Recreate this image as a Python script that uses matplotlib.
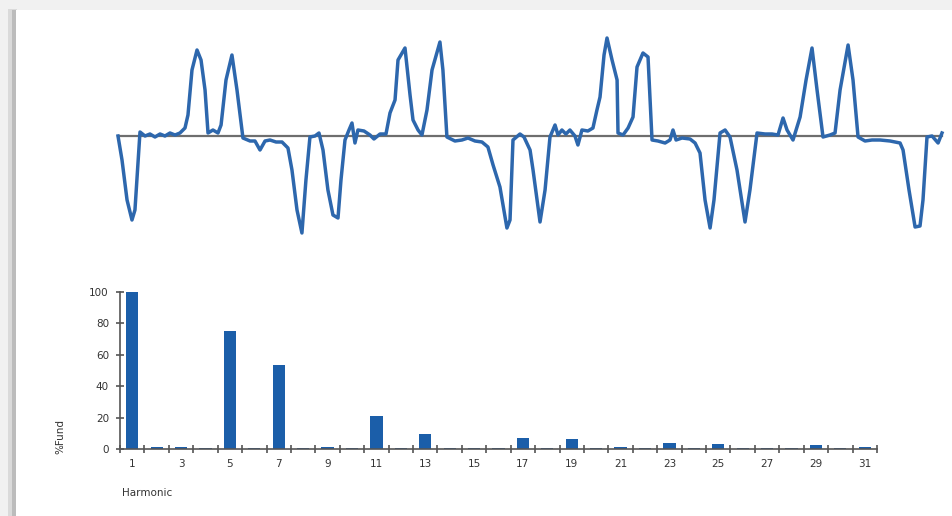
import numpy as np
import matplotlib
matplotlib.use('Agg')
import matplotlib.pyplot as plt
from matplotlib.patches import Rectangle

# waveform: time [ms] and current [per unit]
t_ms = [0.00, 0.39, 0.88, 1.36, 1.65, 2.14, 2.63, 3.11, 3.60, 4.09, 4.57, 5.06, 5.55, 6.03,
        6.52, 6.81, 7.20, 7.69, 8.08, 8.47, 8.76, 9.24, 9.73, 10.03, 10.51, 11.09, 11.58,
        12.16, 12.85, 13.33, 13.82, 14.31, 14.79, 15.38, 15.96, 16.54, 16.93, 17.42, 17.90,
        18.29, 18.68, 19.17, 19.56, 19.95, 20.43, 20.92, 21.41, 21.70, 22.09, 22.48, 22.77,
        23.06, 23.35, 23.94, 24.52, 24.91, 25.50, 26.08, 26.47, 26.96, 27.25, 27.93, 28.42,
        28.71, 29.20, 29.58, 30.07, 30.56, 31.33, 31.62, 32.01, 32.79, 33.47, 34.06, 34.74,
        35.42, 36.00, 36.50, 37.17, 37.85, 38.15, 38.44, 39.12, 39.51, 40.10, 40.39, 41.07,
        41.56, 42.04, 42.53, 42.82, 43.20, 43.59, 43.98, 44.47, 44.76, 45.15, 45.73, 46.22,
        46.61, 46.91, 47.30, 47.59, 48.08, 48.57, 48.66, 49.15, 49.64, 50.12, 50.51, 51.09,
        51.58, 51.97, 52.55, 53.24, 53.72, 54.01, 54.31, 54.89, 55.67, 56.16, 56.64, 57.13,
        57.62, 58.00, 58.59, 59.08, 59.56, 60.24, 61.02, 61.50, 62.19, 62.97, 63.65, 64.23,
        64.72, 65.11, 65.69, 66.38, 66.96, 67.54, 68.03, 68.61, 69.29, 69.78, 70.27, 71.05,
        71.53, 72.02, 72.70, 73.38, 74.16, 75.13, 76.11, 76.40, 76.98, 77.57, 78.05, 78.34,
        78.73, 79.22, 79.81, 80.19]
i_pu = [0.00, -0.24, -0.64, -0.84, -0.74, 0.04, 0.00, 0.02, -0.01, 0.02, 0.00, 0.03, 0.01, 0.03,
        0.08, 0.21, 0.66, 0.86, 0.76, 0.46, 0.03, 0.06, 0.03, 0.11, 0.56, 0.81, 0.46,
        -0.02, -0.05, -0.05, -0.14, -0.05, -0.04, -0.06, -0.06, -0.12, -0.34, -0.74, -0.97,
        -0.44, -0.01, 0.00, 0.03, -0.14, -0.54, -0.79, -0.82, -0.44, -0.04, 0.06, 0.13,
        -0.07, 0.06, 0.05, 0.01, -0.03, 0.02, 0.02, 0.23, 0.36, 0.76, 0.88, 0.41,
        0.16, 0.06, 0.01, 0.26, 0.66, 0.94, 0.66, -0.01, -0.05, -0.04, -0.02, -0.05,
        -0.06, -0.11, -0.29, -0.51, -0.92, -0.84, -0.04, 0.02, -0.01, -0.14, -0.34, -0.86,
        -0.54, -0.01, 0.11, 0.01, 0.06, 0.02, 0.06, 0.00, -0.09, 0.06, 0.05, 0.08,
        0.26, 0.39, 0.81, 0.98, 0.76, 0.56, 0.03, 0.01, 0.08, 0.19, 0.69, 0.83,
        0.79, -0.04, -0.05, -0.07, -0.04, 0.06, -0.04, -0.02, -0.03, -0.07, -0.17, -0.64,
        -0.92, -0.64, 0.03, 0.06, -0.01, -0.34, -0.86, -0.54, 0.03, 0.02, 0.02, 0.01,
        0.18, 0.06, -0.04, 0.19, 0.56, 0.88, 0.46, -0.01, 0.01, 0.03, 0.46, 0.91,
        0.56, -0.01, -0.05, -0.04, -0.04, -0.05, -0.07, -0.14, -0.54, -0.91, -0.90, -0.64,
        -0.01, 0.00, -0.07, 0.03]

# harmonic spectrum, % of fundamental
harmonics = list(range(1, 32))
pct_fund = [100, 1.0, 1.2, 0.8, 75, 0.8, 53.5, 0.8, 1.0, 0.8, 21, 0.7, 9.5, 0.7, 0.8, 0.7,
            7.2, 0.6, 6.2, 0.6, 1.0, 0.6, 4.0, 0.6, 3.2, 0.6, 0.7, 0.6, 2.5, 0.6, 1.0]
tick_labels = [str(h) for h in harmonics if h % 2 == 1]

W, H = 953, 516
fig = plt.figure(figsize=(W / 100, H / 100), dpi=100)
fig.patch.set_facecolor('#f1f1f1')

# white sheet with a soft shadow on the left
fig.add_artist(Rectangle((8 / W, 0), 9 / W, 1 - 9 / H, transform=fig.transFigure,
                         facecolor='#dadada', edgecolor='none', zorder=0))
fig.add_artist(Rectangle((12 / W, 0), 5 / W, 1 - 10 / H, transform=fig.transFigure,
                         facecolor='#bcbcbc', edgecolor='none', zorder=0))
fig.add_artist(Rectangle((16 / W, 0), 1, 1 - 10 / H, transform=fig.transFigure,
                         facecolor='white', edgecolor='none', zorder=0))


def px_axes(x0, y0, x1, y1):
    # axes box from pixel corners (top-left origin)
    return fig.add_axes([x0 / W, 1 - y1 / H, (x1 - x0) / W, (y1 - y0) / H])


# waveform
ax1 = px_axes(118, 36, 942, 236)
ax1.set_xlim(0, t_ms[-1])
ax1.set_ylim(-1, 1)
ax1.axis('off')
ax1.plot([0, t_ms[-1]], [0, 0], color='#6e6e6e', lw=1.6, zorder=1, clip_on=False)
ax1.plot(t_ms, i_pu, color='#2d67ad', lw=2.5, zorder=2, clip_on=False,
         solid_joinstyle='round')

# spectrum
ax2 = px_axes(120, 292, 877, 449)
ax2.bar(harmonics, pct_fund, width=0.5, color='#1b5ea9', zorder=2)
ax2.set_xlim(0.5, 31.5)
ax2.set_ylim(0, 100)
for s in ['top', 'right']:
    ax2.spines[s].set_visible(False)
for s in ['left', 'bottom']:
    ax2.spines[s].set_color('#555555')
    ax2.spines[s].set_linewidth(1.2)
ax2.set_yticks([0, 20, 40, 60, 80, 100])
ax2.set_xticks(np.arange(0.5, 32, 1.0))
ax2.set_xticklabels([])
ax2.set_xticks([h for h in harmonics if h % 2 == 1], minor=True)
ax2.set_xticklabels(tick_labels, minor=True)
ax2.tick_params(axis='x', which='major', direction='inout', length=6, width=1.2,
                color='#555555')
ax2.tick_params(axis='x', which='minor', length=0, pad=7, labelsize=7.5,
                labelcolor='#333333')
ax2.tick_params(axis='y', direction='inout', length=6, width=1.2, color='#555555',
                labelsize=7.5, labelcolor='#333333', pad=5)

fig.text(60 / W, 1 - 437 / H, '%Fund', rotation=90, ha='center', va='center',
         fontsize=7.5, color='#333333')
fig.text(122 / W, 1 - 493 / H, 'Harmonic', ha='left', va='center',
         fontsize=7.5, color='#333333')

fig.savefig('out.png', dpi=100, facecolor=fig.get_facecolor())
